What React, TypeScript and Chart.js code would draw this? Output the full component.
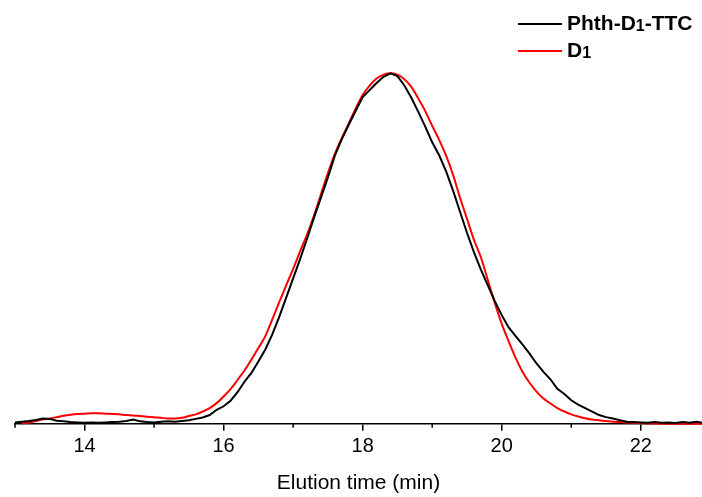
import React, { useEffect, useRef } from "react";
import { Chart, registerables } from "chart.js";

Chart.register(...registerables);

const elutionTime = [
  13.0, 13.1, 13.2, 13.3, 13.4, 13.5, 13.6, 13.7, 13.8, 13.9,
  14.0, 14.1, 14.2, 14.3, 14.4, 14.5, 14.6, 14.7, 14.8, 14.9,
  15.0, 15.1, 15.2, 15.3, 15.4, 15.5, 15.6, 15.7, 15.8, 15.9,
  16.0, 16.1, 16.2, 16.3, 16.4, 16.5, 16.6, 16.7, 16.8, 16.9,
  17.0, 17.1, 17.2, 17.3, 17.4, 17.5, 17.6, 17.7, 17.8, 17.9,
  18.0, 18.1, 18.2, 18.3, 18.4, 18.5, 18.6, 18.7, 18.8, 18.9,
  19.0, 19.1, 19.2, 19.3, 19.4, 19.5, 19.6, 19.7, 19.8, 19.9,
  20.0, 20.1, 20.2, 20.3, 20.4, 20.5, 20.6, 20.7, 20.8, 20.9,
  21.0, 21.1, 21.2, 21.3, 21.4, 21.5, 21.6, 21.7, 21.8, 21.9,
  22.0, 22.1, 22.2, 22.3, 22.4, 22.5, 22.6, 22.7, 22.8, 22.9,
];

// Phth-D1-TTC (normalised RI signal)
const phthD1TTC = [
  0.004, 0.006, 0.008, 0.011, 0.015, 0.014, 0.009, 0.007, 0.005, 0.004,
  0.003, 0.004, 0.003, 0.004, 0.005, 0.006, 0.008, 0.012, 0.007, 0.005,
  0.004, 0.006, 0.007, 0.006, 0.008, 0.010, 0.014, 0.018, 0.025, 0.040,
  0.050, 0.066, 0.090, 0.120, 0.145, 0.178, 0.212, 0.255, 0.305, 0.360,
  0.415, 0.470, 0.528, 0.588, 0.645, 0.703, 0.765, 0.812, 0.853, 0.893,
  0.932, 0.952, 0.972, 0.990, 1.000, 0.992, 0.965, 0.930, 0.890, 0.848,
  0.803, 0.766, 0.720, 0.665, 0.605, 0.545, 0.490, 0.440, 0.395, 0.350,
  0.310, 0.275, 0.250, 0.226, 0.200, 0.172, 0.148, 0.127, 0.100, 0.085,
  0.067, 0.055, 0.045, 0.035, 0.025, 0.019, 0.015, 0.010, 0.006, 0.005,
  0.004, 0.003, 0.005, 0.003, 0.004, 0.002, 0.005, 0.003, 0.006, 0.002,
];

// D1 (normalised RI signal)
const d1 = [
  null, 0.001, 0.004, 0.008, 0.012, 0.015, 0.019, 0.023, 0.026, 0.028,
  0.029, 0.030, 0.030, 0.029, 0.028, 0.027, 0.025, 0.024, 0.022, 0.020,
  0.019, 0.017, 0.015, 0.015, 0.017, 0.022, 0.027, 0.035, 0.045, 0.059,
  0.078, 0.099, 0.125, 0.152, 0.183, 0.216, 0.250, 0.298, 0.347, 0.395,
  0.442, 0.492, 0.540, 0.594, 0.655, 0.715, 0.770, 0.815, 0.857, 0.900,
  0.938, 0.965, 0.985, 0.996, 1.000, 0.996, 0.983, 0.961, 0.928, 0.892,
  0.850, 0.810, 0.765, 0.710, 0.645, 0.585, 0.525, 0.475, 0.410, 0.345,
  0.285, 0.235, 0.188, 0.148, 0.117, 0.092, 0.072, 0.058, 0.045, 0.035,
  0.027, 0.021, 0.016, 0.012, 0.010, 0.008, 0.006, 0.005, 0.004, 0.003,
  0.002, 0.001, 0.001, 0.000, 0.000, 0.000, 0.000, 0.000, 0.000, 0.000,
];

const seriesLabels = ["Phth-D₁-TTC", "D₁"];
const seriesColors = ["#000000", "#ff0000"];
const majorTicks = [14, 16, 18, 20, 22];
const minorTicks = [13, 15, 17, 19, 21];
const xTitle = "Elution time (min)";

const FONT = '"Liberation Sans", Arial, sans-serif';

const minorTickPlugin = {
  id: "minorTicks",
  afterDraw(chart: any) {
    const { ctx, chartArea } = chart;
    const xs = chart.scales.x;
    ctx.save();
    ctx.strokeStyle = "#000";
    ctx.lineWidth = 1.5;
    for (const v of minorTicks) {
      const px = xs.getPixelForValue(v);
      ctx.beginPath();
      ctx.moveTo(px, chartArea.bottom);
      ctx.lineTo(px, chartArea.bottom + 4);
      ctx.stroke();
    }
    ctx.restore();
  },
};

const legendPlugin = {
  id: "customLegend",
  afterDraw(chart: any) {
    const ctx = chart.ctx;
    const rows = [30, 57];
    const lineY = [24, 51];
    ctx.save();
    chart.data.datasets.forEach((ds: any, i: number) => {
      ctx.strokeStyle = ds.borderColor;
      ctx.lineWidth = 2;
      ctx.beginPath();
      ctx.moveTo(518, lineY[i]);
      ctx.lineTo(562, lineY[i]);
      ctx.stroke();
      ctx.fillStyle = "#000";
      ctx.textBaseline = "alphabetic";
      ctx.textAlign = "left";
      let x = 567;
      const parts = String(ds.label).split("₁");
      parts.forEach((p: string, k: number) => {
        ctx.font = `bold 21px ${FONT}`;
        ctx.fillText(p, x, rows[i]);
        x += ctx.measureText(p).width;
        if (k < parts.length - 1) {
          ctx.font = `bold 16px ${FONT}`;
          ctx.fillText("1", x, rows[i] + 1);
          x += ctx.measureText("1").width;
        }
      });
    });
    ctx.restore();
  },
};

export default function App() {
  const ref = useRef<HTMLCanvasElement | null>(null);
  useEffect(() => {
    document.body.style.margin = "0";
    const canvas = ref.current;
    if (!canvas) return;
    const chart = new Chart(canvas, {
      type: "line",
      data: {
        datasets: [
          {
            label: seriesLabels[0],
            data: elutionTime.map((t, i) => ({ x: t, y: phthD1TTC[i] })),
            borderColor: seriesColors[0],
            backgroundColor: seriesColors[0],
            borderWidth: 2,
            pointRadius: 0,
            tension: 0,
            clip: false as any,
          },
          {
            label: seriesLabels[1],
            data: elutionTime.map((t, i) => ({ x: t, y: d1[i] as any })),
            borderColor: seriesColors[1],
            backgroundColor: seriesColors[1],
            borderWidth: 2,
            pointRadius: 0,
            cubicInterpolationMode: "monotone",
            clip: false as any,
          },
        ],
      },
      options: {
        animation: false,
        responsive: false,
        devicePixelRatio: 1,
        layout: { padding: { left: 15, right: 0, top: 0, bottom: 0 } },
        plugins: {
          legend: { display: false },
          tooltip: { enabled: false },
        },
        scales: {
          x: {
            type: "linear",
            min: 13,
            max: 22.88,
            afterBuildTicks: (s: any) => {
              s.ticks = majorTicks.map((v) => ({ value: v }));
            },
            ticks: {
              font: { family: FONT, size: 20 },
              color: "#000",
              padding: 4,
              maxRotation: 0,
              autoSkip: false,
            },
            grid: {
              display: true,
              drawOnChartArea: false,
              drawTicks: true,
              tickLength: 7,
              color: "#000",
              lineWidth: 1.5,
            },
            border: { display: true, color: "#000", width: 1.5 },
            title: {
              display: true,
              text: xTitle,
              font: { family: FONT, size: 21 },
              color: "#000",
              padding: { top: 8, bottom: 1 },
            },
          },
          y: {
            display: false,
            min: 0,
            max: 1.209,
          },
        },
      },
      plugins: [minorTickPlugin, legendPlugin],
    } as any);
    return () => chart.destroy();
  }, []);
  return (
    <div style={{ position: "fixed", left: 0, top: 0, width: 702, height: 497, background: "#fff" }}>
      <canvas ref={ref} width={702} height={497} />
    </div>
  );
}
